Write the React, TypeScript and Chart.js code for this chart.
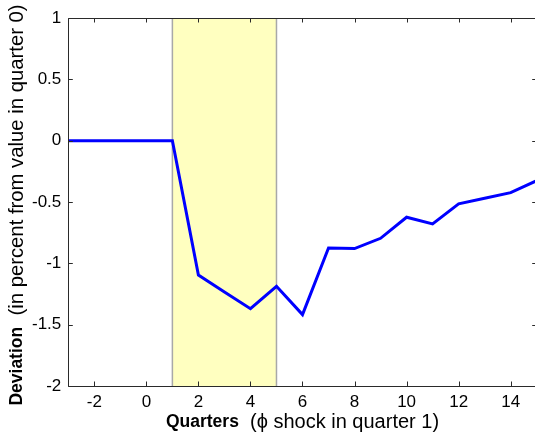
import React, { useEffect, useRef } from "react";
import { Chart, registerables } from "chart.js";

Chart.register(...registerables);

const quarters = [-3, -2, -1, 0, 1, 2, 3, 4, 5, 6, 7, 8, 9, 10, 11, 12, 13, 14, 15];
const deviation = [0, 0, 0, 0, 0, -1.096, -1.234, -1.37, -1.187, -1.418, -0.875, -0.88, -0.796, -0.624, -0.678, -0.515, -0.47, -0.424, -0.326];
const xTickValues = [-2, 0, 2, 4, 6, 8, 10, 12, 14];
const yTickValues = [-2, -1.5, -1, -0.5, 0, 0.5, 1];
const shadeRange = [1, 5];
const xTitleBold = "Quarters";
const xTitleRest = " (\u03d5 shock in quarter 1)";
const yTitleBold = "Deviation";
const yTitleRest = " (in percent from value in quarter 0)";

const FONT = "'Liberation Sans', Arial, sans-serif";

const framePlugin = {
  id: "frame",
  beforeDraw(chart: any) {
    const { ctx, width, height } = chart;
    ctx.save();
    ctx.fillStyle = "#ffffff";
    ctx.fillRect(0, 0, width, height);
    ctx.restore();
  },
  beforeDatasetsDraw(chart: any) {
    const { ctx, chartArea } = chart;
    const xs = chart.scales.x;
    const x1 = xs.getPixelForValue(shadeRange[0]);
    const x2 = xs.getPixelForValue(shadeRange[1]);
    ctx.save();
    ctx.fillStyle = "rgb(255,255,192)";
    ctx.fillRect(x1, chartArea.top, x2 - x1, chartArea.bottom - chartArea.top);
    ctx.strokeStyle = "#a8a8a8";
    ctx.lineWidth = 1.5;
    ctx.beginPath();
    ctx.moveTo(x1, chartArea.top);
    ctx.lineTo(x1, chartArea.bottom);
    ctx.moveTo(x2, chartArea.top);
    ctx.lineTo(x2, chartArea.bottom);
    ctx.stroke();
    ctx.restore();
  },
  afterDatasetsDraw(chart: any) {
    const { ctx, chartArea } = chart;
    const xs = chart.scales.x;
    const ys = chart.scales.y;
    const { left, right, top, bottom } = chartArea;
    ctx.save();
    ctx.strokeStyle = "#2a2a2a";
    ctx.lineWidth = 1;
    ctx.beginPath();
    const tl = 4.5;
    for (const v of xTickValues) {
      const px = Math.round(xs.getPixelForValue(v)) + 0.5;
      ctx.moveTo(px, bottom);
      ctx.lineTo(px, bottom - tl);
      ctx.moveTo(px, top);
      ctx.lineTo(px, top + tl);
    }
    for (const v of yTickValues) {
      const py = Math.round(ys.getPixelForValue(v)) + 0.5;
      ctx.moveTo(left, py);
      ctx.lineTo(left + tl, py);
      ctx.moveTo(right, py);
      ctx.lineTo(right - tl, py);
    }
    ctx.stroke();
    ctx.beginPath();
    ctx.rect(Math.round(left) + 0.5, Math.round(top) + 0.5, Math.round(right - left), Math.round(bottom - top));
    ctx.stroke();

    // titles
    ctx.fillStyle = "#000000";
    ctx.textBaseline = "middle";
    const boldFont = "bold 17.5px " + FONT;
    // x title
    const xNorm = "20px " + FONT;
    ctx.font = boldFont;
    const bw = ctx.measureText(xTitleBold).width;
    ctx.font = xNorm;
    const nw = ctx.measureText(" " + xTitleRest).width;
    const cx = (left + right) / 2;
    const sx = cx - (bw + nw) / 2;
    ctx.textAlign = "left";
    ctx.font = boldFont;
    ctx.fillText(xTitleBold, sx, 422);
    ctx.font = xNorm;
    ctx.fillText(" " + xTitleRest, sx + bw, 422);
    // y title
    const yNorm = "20.3px " + FONT;
    ctx.translate(17, 205);
    ctx.rotate(-Math.PI / 2);
    ctx.font = boldFont;
    const ybw = ctx.measureText(yTitleBold).width;
    ctx.font = yNorm;
    const ynw = ctx.measureText(" " + yTitleRest).width;
    const sy = -(ybw + ynw) / 2;
    ctx.font = boldFont;
    ctx.fillText(yTitleBold, sy, 0);
    ctx.font = yNorm;
    ctx.fillText(" " + yTitleRest, sy + ybw, 0);
    ctx.restore();
  },
};

export default function App() {
  const ref = useRef<HTMLCanvasElement | null>(null);
  useEffect(() => {
    document.body.style.margin = "0";
    document.body.style.overflow = "hidden";
    const canvas = ref.current!;
    const chart = new Chart(canvas, {
      type: "line",
      data: {
        datasets: [
          {
            data: quarters.map((q, i) => ({ x: q, y: deviation[i] })),
            borderColor: "#0000ff",
            borderWidth: 3,
            pointRadius: 0,
            tension: 0,
            fill: false,
          },
        ],
      },
      options: {
        responsive: false,
        animation: false,
        maintainAspectRatio: false,
        layout: { padding: { left: 0, top: 18, right: 3.3, bottom: 0 } },
        plugins: { legend: { display: false }, tooltip: { enabled: false } },
        scales: {
          x: {
            type: "linear",
            min: -3,
            max: 15,
            afterBuildTicks: (s: any) => {
              s.ticks = xTickValues.map((v) => ({ value: v }));
            },
            afterFit: (s: any) => {
              s.height = 54;
            },
            grid: { display: false, drawTicks: false },
            border: { display: false },
            ticks: {
              padding: 6,
              color: "#000",
              font: { family: FONT, size: 17 },
              maxRotation: 0,
              autoSkip: false,
              callback: (v: any) => String(v),
            },
          },
          y: {
            type: "linear",
            min: -2,
            max: 1,
            afterBuildTicks: (s: any) => {
              s.ticks = yTickValues.map((v) => ({ value: v }));
            },
            afterFit: (s: any) => {
              s.width = 68.3;
            },
            grid: { display: false, drawTicks: false },
            border: { display: false },
            ticks: {
              padding: 7,
              color: "#000",
              font: { family: FONT, size: 17 },
              autoSkip: false,
              callback: (v: any) => String(v),
            },
          },
        },
      },
      plugins: [framePlugin],
    });
    return () => chart.destroy();
  }, []);
  return (
    <canvas
      ref={ref}
      width={540}
      height={440}
      style={{ position: "absolute", left: 0, top: 0, width: 540, height: 440, display: "block" }}
    />
  );
}
